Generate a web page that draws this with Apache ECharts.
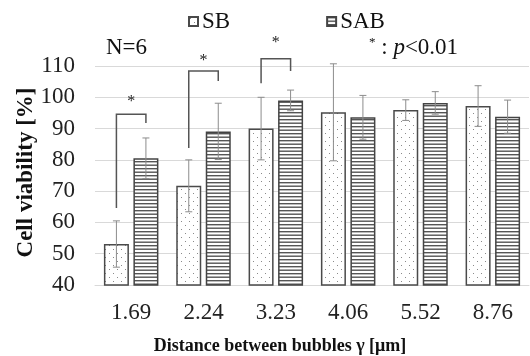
<!DOCTYPE html>
<html><head><meta charset="utf-8">
<script src="https://cdn.jsdelivr.net/npm/echarts@6/dist/echarts.min.js"></script>
<style>html,body{margin:0;padding:0;background:#fff}#c{width:530px;height:356px}</style>
</head><body><div id="c"></div>
<script>
const categories = ['1.69','2.24','3.23','4.06','5.52','8.76'];
const sbMean = [53.1, 71.7, 90.0, 95.2, 95.9, 97.2];
const sbErr  = [7.4, 8.3, 10.0, 15.5, 3.3, 6.5];
const sabMean = [80.5, 89.1, 99.0, 93.6, 98.2, 93.8];
const sabErr  = [6.5, 9.0, 3.3, 7.0, 3.6, 5.3];
// brackets: [category, left leg bottom, top, right leg bottom]
const brackets = [[0, 64.6, 94.6, 91.8],[1, 83.8, 108.4, 105.2],[2, 104.5, 112.3, 108.4]];
const starValues = [98.5, 111.6, 117.3];
const yTicks = {min: 40, max: 110, interval: 10};

const FONT = '"Liberation Serif","Times New Roman",serif';
const BAR_W = 25, GAP = 4.5;
const OFF = BAR_W/2 + GAP/2;

function dotPattern(){
  const c = document.createElement('canvas'); c.width = 8; c.height = 8;
  const g = c.getContext('2d'); g.fillStyle = '#fff'; g.fillRect(0,0,8,8);
  g.fillStyle = '#8a8a8a';
  g.fillRect(1,1,1,1); g.fillRect(5,5,1,1);
  return c;
}
function linePattern(){
  const c = document.createElement('canvas'); c.width = 4; c.height = 7;
  const g = c.getContext('2d'); g.fillStyle = '#fff'; g.fillRect(0,0,4,7);
  g.fillStyle = '#555'; g.fillRect(0,0,4,1.4); g.fillRect(0,3.5,4,1.4);
  return c;
}
const sbFill = {image: dotPattern(), repeat: 'repeat'};
const sabFill = {image: linePattern(), repeat: 'repeat'};

function errRender(sign){
  return function(params, api){
    const i = api.value(0);
    const lo = api.coord([i, api.value(1)]);
    const hi = api.coord([i, api.value(2)]);
    const x = lo[0] + sign*OFF;
    const st = {stroke: '#8c8c8c', lineWidth: 1};
    return {type:'group', children:[
      {type:'line', shape:{x1:x, y1:lo[1], x2:x, y2:hi[1]}, style:st},
      {type:'line', shape:{x1:x-3.5, y1:lo[1], x2:x+3.5, y2:lo[1]}, style:st},
      {type:'line', shape:{x1:x-3.5, y1:hi[1], x2:x+3.5, y2:hi[1]}, style:st}
    ]};
  };
}

const chart = echarts.init(document.getElementById('c'), null, {renderer:'canvas'});
chart.setOption({
  animation: false,
  backgroundColor: '#fff',
  textStyle: {fontFamily: FONT},
  grid: {left: 95, right: 1, top: 66, bottom: 71, containLabel: false, outerBoundsMode: 'none'},
  legend: {
    top: 5, left: 183, itemGap: 96, itemWidth: 9, itemHeight: 9,
    textStyle: {fontFamily: FONT, fontSize: 23, color: '#111', padding: [0,0,0,-1]},
    data: [{name:'SB', icon:'rect'}, {name:'SAB', icon:'rect'}]
  },
  xAxis: {
    type: 'category', data: categories,
    axisLine: {lineStyle: {color: '#d9d9d9', width: 1}},
    axisTick: {show: false},
    axisLabel: {fontFamily: FONT, fontSize: 23, color: '#222', margin: 16},
    name: 'Distance between bubbles γ [μm]', nameLocation: 'middle', nameGap: 52, nameMoveOverlap: false,
    nameTextStyle: {fontFamily: FONT, fontSize: 18, fontWeight: 'bold', color: '#111', padding: [0, 64, 0, 0]}
  },
  yAxis: {
    type: 'value', min: yTicks.min, max: yTicks.max, interval: yTicks.interval,
    axisLine: {show: false}, axisTick: {show: false},
    splitLine: {lineStyle: {color: '#d9d9d9', width: 1}},
    axisLabel: {fontFamily: FONT, fontSize: 23, color: '#222', margin: 20},
    name: 'Cell viability [%]', nameLocation: 'middle', nameGap: 57, nameMoveOverlap: false,
    nameTextStyle: {fontFamily: FONT, fontSize: 23, fontWeight: 'bold', color: '#111', padding: [0, 0, 0, 6]}
  },
  series: [
    {name:'SB', type:'bar', data: sbMean, barWidth: BAR_W, barGap: (GAP/BAR_W*100)+'%',
     itemStyle: {color: sbFill, borderColor: '#4a4a4a', borderWidth: 1.5}},
    {name:'SAB', type:'bar', data: sabMean, barWidth: BAR_W,
     itemStyle: {color: sabFill, borderColor: '#444', borderWidth: 1.5}},
    {type:'custom', silent:true, renderItem: errRender(-1), z: 5,
     data: sbMean.map((m,i)=>[i, m - sbErr[i], m + sbErr[i]])},
    {type:'custom', silent:true, renderItem: errRender(1), z: 5,
     data: sabMean.map((m,i)=>[i, m - sabErr[i], m + sabErr[i]])},
    {type:'custom', silent:true, clip:false, z: 6,
     data: brackets.map((b,k)=>[b[0], b[1], b[2], b[3], starValues[k]]),
     renderItem: function(params, api){
       const i = api.value(0);
       const pl = api.coord([i, api.value(1)]);
       const pt = api.coord([i, api.value(2)]);
       const pr = api.coord([i, api.value(3)]);
       const ps = api.coord([i, api.value(4)]);
       const xl = pl[0] - OFF, xr = pl[0] + OFF;
       return {type:'group', children:[
         {type:'polyline', shape:{points:[[xl,pl[1]],[xl,pt[1]],[xr,pt[1]],[xr,pr[1]]]},
          style:{stroke:'#555', lineWidth:1.5, fill:null}},
         {type:'text', style:{text:'*', x:ps[0], y:ps[1], align:'center', verticalAlign:'middle',
          font:'16px '+FONT, fill:'#222'}}
       ]};
     }}
  ],
  graphic: [
    {type:'text', left: 106, top: 36, style:{text:'N=6', font:'23px '+FONT, fill:'#111'}},
    {type:'text', left: 369, top: 36, style:{
      text:'{s|*} : {p|p}<0.01',
      font:'23px '+FONT, fill:'#111',
      rich:{s:{fontSize:13, fontFamily:FONT, verticalAlign:'top', fill:'#111'},
            p:{fontSize:23, fontStyle:'italic', fontFamily:FONT, fill:'#111'}}
    }}
  ]
});
</script></body></html>
